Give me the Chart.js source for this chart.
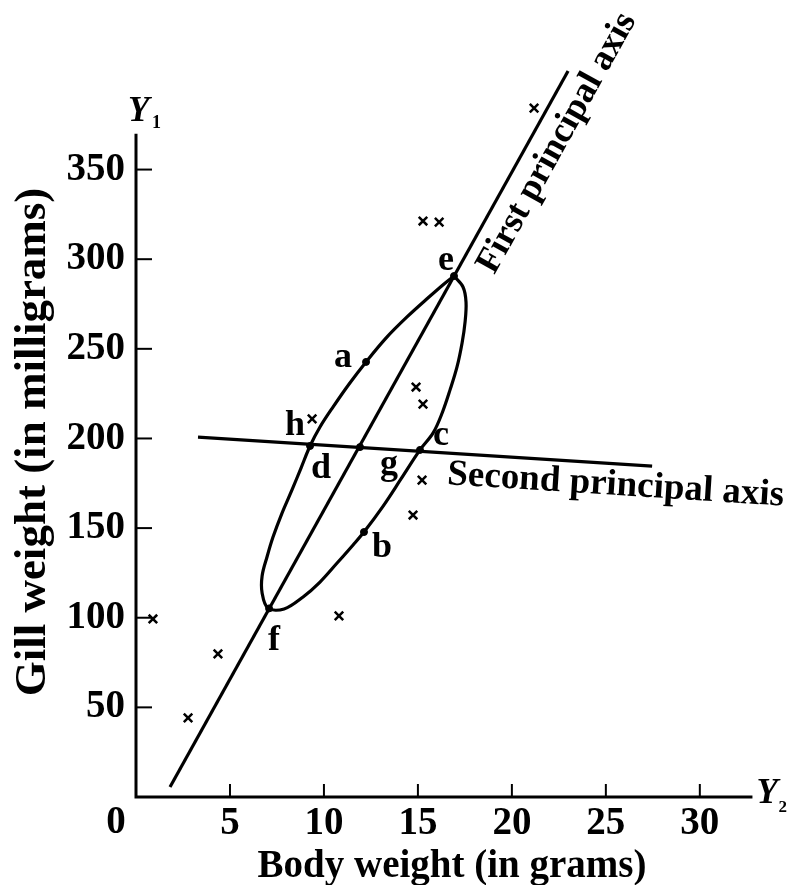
<!DOCTYPE html>
<html>
<head>
<meta charset="utf-8">
<script src="https://cdn.jsdelivr.net/npm/chart.js@4.4.1/dist/chart.umd.min.js"></script>
<style>
  html, body { margin: 0; padding: 0; background: #fff; }
  #wrap { width: 793px; height: 885px; }
</style>
</head>
<body>
<div id="wrap"><canvas id="c" width="793" height="885"></canvas></div>
<script>
// ── DATA ─────────────────────────────────────────────────────────────────────
// body weight (g) / gill weight (mg) of the individual crabs, marked "x"
const crossX = [0.90, 4.36, 2.77, 10.80, 9.37, 14.90, 15.27, 15.22, 14.74, 15.27, 16.13, 21.18];
const crossY = [99.3, 79.8, 44.1, 101.0, 210.9, 228.7, 219.2, 176.8, 157.3, 321.3, 320.7, 384.3];

// lettered points on the ellipse / axes
const dotNames = ['a', 'b', 'c', 'd', 'e', 'f', 'g'];
const dotX = [12.24, 12.13, 15.11, 9.26, 16.92, 7.08, 11.92];
const dotY = [242.7, 147.8, 193.6, 195.8, 290.6, 105.2, 195.2];

// outline of the ellipse, read round from e
const ellipseX = [16.92, 17.40, 17.56, 17.51, 17.35, 17.08, 16.71, 16.29, 15.81, 15.11, 14.10, 13.15,
  12.13, 11.55, 10.70, 9.79, 8.89, 7.88, 7.02, 6.71, 6.71, 6.97, 7.29, 7.77, 8.30, 8.78, 9.26,
  9.79, 10.48, 11.34, 12.24, 13.30, 14.42, 15.59, 16.39, 16.92];
const ellipseY = [290.6, 284.5, 276.1, 265.0, 253.3, 239.9, 227.1, 214.2, 203.1, 193.6, 177.4, 162.3,
  147.8, 140.6, 130.5, 119.9, 111.6, 104.9, 105.4, 113.8, 123.3, 133.9, 145.0, 158.4, 171.3, 183.5, 195.8,
  206.4, 217.5, 230.4, 242.7, 256.0, 267.8, 278.9, 286.2, 290.6];

// principal axes (end points)
const firstAxisX = [1.81, 22.99];
const firstAxisY = [5.6, 405.0];
const secondAxisX = [3.30, 27.46];
const secondAxisY = [200.8, 184.6];

// letter labels (anchor = baseline centre, in data units)
const labelNames = ['a', 'b', 'c', 'd', 'e', 'f', 'g', 'h'];
const labelX = [11.02, 13.09, 16.23, 9.85, 16.50, 7.34, 13.46, 8.46];
const labelY = [239.9, 133.9, 196.4, 177.9, 294.0, 82.0, 180.2, 201.9];

const xTicks = [5, 10, 15, 20, 25, 30];
const yTicks = [50, 100, 150, 200, 250, 300, 350];
const X_END = 32.8, Y_END = 370;

// ── HELPERS ──────────────────────────────────────────────────────────────────
const SERIF = '"Liberation Serif", "Times New Roman", serif';
const pts = (xs, ys) => xs.map((v, i) => ({ x: v, y: ys[i] }));

// axes with inward ticks, axis names and the annotations
const drawExtras = {
  id: 'drawExtras',
  afterDraw(chart) {
    const { ctx, scales: { x, y } } = chart;
    const px = v => x.getPixelForValue(v), py = v => y.getPixelForValue(v);
    ctx.save();
    ctx.strokeStyle = '#000'; ctx.fillStyle = '#000';

    ctx.lineWidth = 3;
    ctx.beginPath();
    ctx.moveTo(px(0), py(Y_END)); ctx.lineTo(px(0), py(0)); ctx.lineTo(px(X_END), py(0));
    ctx.stroke();

    ctx.lineWidth = 2;
    yTicks.forEach(v => {
      ctx.beginPath(); ctx.moveTo(px(0), py(v)); ctx.lineTo(px(0) + 16, py(v)); ctx.stroke();
    });
    xTicks.forEach(v => {
      ctx.beginPath(); ctx.moveTo(px(v), py(0)); ctx.lineTo(px(v), py(0) - 13); ctx.stroke();
    });

    // origin "0"
    ctx.textAlign = 'center'; ctx.textBaseline = 'alphabetic';
    ctx.font = `bold 39px ${SERIF}`;
    ctx.fillText('0', px(0) - 20, py(0) + 36);

    // Y1 / Y2
    ctx.textAlign = 'left';
    ctx.font = `italic bold 35px ${SERIF}`;
    ctx.fillText('Y', px(0) - 8, py(Y_END) - 13);
    ctx.fillText('Y', px(X_END) + 4, py(0) + 6);
    ctx.font = `bold 18px ${SERIF}`;
    ctx.fillText('1', px(0) + 16, py(Y_END) - 6);
    ctx.font = `bold 17px ${SERIF}`;
    ctx.fillText('2', px(X_END) + 26, py(0) + 15);

    // axis titles
    ctx.textAlign = 'center';
    ctx.font = `bold 39px ${SERIF}`;
    ctx.fillText('Body weight (in grams)', 452, 877);
    ctx.save();
    ctx.translate(45, 442); ctx.rotate(-Math.PI / 2);
    ctx.font = `bold 45px ${SERIF}`;
    ctx.fillText('Gill weight (in milligrams)', 0, 0);
    ctx.restore();

    // letters
    ctx.font = `bold 36px ${SERIF}`;
    labelNames.forEach((t, i) => ctx.fillText(t, px(labelX[i]), py(labelY[i])));

    // axis names along the lines
    const a1 = Math.atan2(py(firstAxisY[1]) - py(firstAxisY[0]), px(firstAxisX[1]) - px(firstAxisX[0]));
    ctx.save();
    ctx.translate(px(22.41), py(364.8)); ctx.rotate(a1);
    ctx.textBaseline = 'middle';
    ctx.font = `bold 36px ${SERIF}`;
    ctx.fillText('First principal axis', 0, 0);
    ctx.restore();

    const a2 = Math.atan2(py(secondAxisY[1]) - py(secondAxisY[0]), px(secondAxisX[1]) - px(secondAxisX[0]));
    ctx.save();
    ctx.translate(px(25.49), py(168.5)); ctx.rotate(a2);
    ctx.font = `bold 37px ${SERIF}`;
    ctx.fillText('Second principal axis', 0, 0);
    ctx.restore();

    ctx.restore();
  }
};

// ── CHART ────────────────────────────────────────────────────────────────────
const lineDs = (xs, ys, extra = {}) => ({
  data: pts(xs, ys), showLine: true, borderColor: '#000', borderWidth: 3.2,
  pointRadius: 0, fill: false, ...extra
});

new Chart(document.getElementById('c'), {
  type: 'scatter',
  data: {
    datasets: [
      lineDs(ellipseX, ellipseY, { tension: 0.35 }),
      lineDs(firstAxisX, firstAxisY),
      lineDs(secondAxisX, secondAxisY),
      { data: pts(crossX, crossY), pointStyle: 'crossRot', pointRadius: 6,
        borderColor: '#000', pointBorderWidth: 2.5 },
      { data: pts(dotX, dotY), pointStyle: 'circle', pointRadius: 3.5,
        backgroundColor: '#000', borderColor: '#000', pointBorderWidth: 1 },
    ]
  },
  options: {
    responsive: false, animation: false, devicePixelRatio: 1,
    layout: { padding: { top: 62, right: 18, left: 0, bottom: 0 } },
    plugins: { legend: { display: false }, tooltip: { enabled: false } },
    scales: {
      x: {
        type: 'linear', min: 0, max: 34,
        grid: { display: false, drawTicks: false }, border: { display: false },
        afterBuildTicks: s => { s.ticks = xTicks.map(v => ({ value: v })); },
        afterFit: s => { s.height = 88; },
        ticks: { color: '#000', padding: 4, maxRotation: 0, autoSkip: false,
                 font: { family: SERIF, size: 39, weight: 'bold' } }
      },
      y: {
        type: 'linear', min: 0, max: 410,
        grid: { display: false, drawTicks: false }, border: { display: false },
        afterBuildTicks: s => { s.ticks = yTicks.map(v => ({ value: v })); },
        afterFit: s => { s.width = 136; },
        ticks: { color: '#000', padding: 11, autoSkip: false,
                 font: { family: SERIF, size: 39, weight: 'bold' } }
      }
    }
  },
  plugins: [drawExtras]
});
</script>
</body>
</html>
